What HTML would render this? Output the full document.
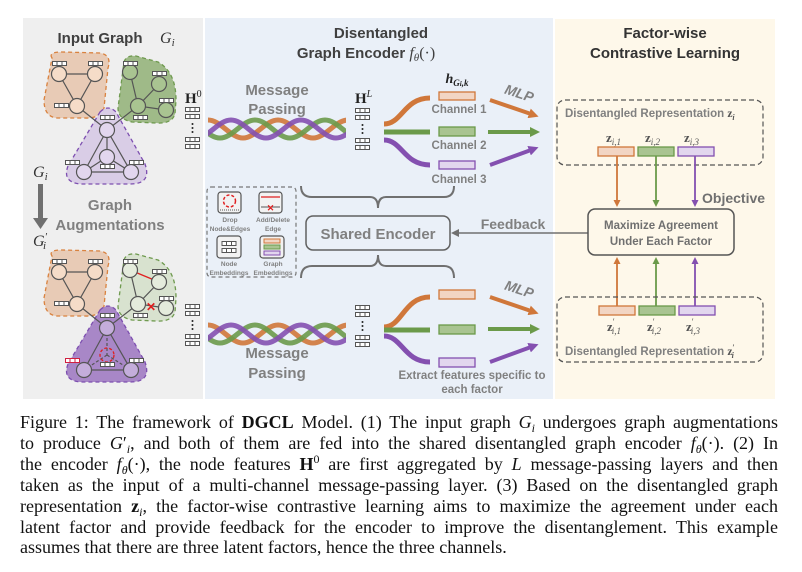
<!DOCTYPE html>
<html><head><meta charset="utf-8"><style>
body{margin:0;width:802px;height:572px;background:#fff;overflow:hidden;position:relative}
svg{position:absolute;left:0;top:0}
.cap{position:absolute;left:20px;width:758px;height:21px;font-family:"Liberation Serif",serif;font-size:18px;color:#111;text-align:justify;text-align-last:justify;white-space:nowrap;line-height:21px}
.cap i{font-style:italic}
.cap sub,.cap sup{font-size:12px;line-height:0;vertical-align:baseline;position:relative}
.cap sub{top:4px}.cap sup{top:-7px}
</style></head><body>
<svg width="802" height="400" viewBox="0 0 802 400" font-family="Liberation Sans, sans-serif">
<defs>
<symbol id="e" viewBox="0 0 15 5" width="15" height="5"><rect x="0.5" y="0.5" width="14" height="4" fill="#fff" stroke="#555" stroke-width="1"/><line x1="5" y1="0" x2="5" y2="5" stroke="#555"/><line x1="10" y1="0" x2="10" y2="5" stroke="#555"/></symbol>
<g id="stack"><use href="#e" x="0" y="0"/><use href="#e" x="0" y="7"/><circle cx="7.5" cy="17" r="1" fill="#222"/><circle cx="7.5" cy="21" r="1" fill="#222"/><circle cx="7.5" cy="25" r="1" fill="#222"/><use href="#e" x="0" y="30"/><use href="#e" x="0" y="37"/></g>
<clipPath id="bc"><rect x="208" y="0" width="138" height="400"/></clipPath>
<marker id="ao" markerWidth="10" markerHeight="10" refX="2" refY="5" orient="auto" markerUnits="userSpaceOnUse"><path d="M0,0 L10,5 L0,10Z" fill="#d0773a"/></marker>
<marker id="ag" markerWidth="10" markerHeight="10" refX="2" refY="5" orient="auto" markerUnits="userSpaceOnUse"><path d="M0,0 L10,5 L0,10Z" fill="#6b9a4a"/></marker>
<marker id="ap" markerWidth="10" markerHeight="10" refX="2" refY="5" orient="auto" markerUnits="userSpaceOnUse"><path d="M0,0 L10,5 L0,10Z" fill="#8450b0"/></marker>
<marker id="so" markerWidth="7" markerHeight="7" refX="1" refY="3.5" orient="auto" markerUnits="userSpaceOnUse"><path d="M0,0 L7,3.5 L0,7Z" fill="#d0773a"/></marker>
<marker id="sg" markerWidth="7" markerHeight="7" refX="1" refY="3.5" orient="auto" markerUnits="userSpaceOnUse"><path d="M0,0 L7,3.5 L0,7Z" fill="#6b9a4a"/></marker>
<marker id="sp" markerWidth="7" markerHeight="7" refX="1" refY="3.5" orient="auto" markerUnits="userSpaceOnUse"><path d="M0,0 L7,3.5 L0,7Z" fill="#8450b0"/></marker>
<g id="braid" clip-path="url(#bc)" fill="none" stroke-width="5">
<path d="M138,120 C150.6,120 160.4,138 173,138 S195.4,120 208,120 S230.4,138 243,138 S265.4,120 278,120 S300.4,138 313,138 S335.4,120 348,120 S370.4,138 383,138" stroke="#d0773a" opacity=".9"/>
<path d="M185,120 C197.6,120 207.4,138 220,138 S242.4,120 255,120 S277.4,138 290,138 S312.4,120 325,120 S347.4,138 360,138" stroke="#6b9a4a" opacity=".9"/>
<path d="M161,120 C173.6,120 183.4,138 196,138 S218.4,120 231,120 S253.4,138 266,138 S288.4,120 301,120 S323.4,138 336,138 S358.4,120 371,120" stroke="#8450b0" opacity=".9"/>
</g>
</defs>
<rect x="23" y="18" width="180" height="381" fill="#efefef"/>
<rect x="205" y="18" width="348" height="381" fill="#eaf0f8"/>
<rect x="555" y="19" width="220" height="380" fill="#fef8ea"/>
<text x="100" y="43" font-size="15" font-weight="bold" fill="#404040" text-anchor="middle">Input Graph</text>
<text x="160" y="43" font-size="16" font-style="italic" font-family="Liberation Serif,serif" fill="#333">G<tspan font-size="11" dy="3">i</tspan></text>
<text x="381" y="38" font-size="15" font-weight="bold" fill="#404040" text-anchor="middle">Disentangled</text>
<text x="366" y="58" font-size="15" font-weight="bold" fill="#404040" text-anchor="middle">Graph Encoder <tspan font-family="Liberation Serif,serif" font-style="italic" font-weight="normal" font-size="16">f<tspan font-size="11" dy="3">θ</tspan><tspan dy="-3" font-style="normal">(·)</tspan></tspan></text>
<text x="665" y="38" font-size="15" font-weight="bold" fill="#333" text-anchor="middle">Factor-wise</text>
<text x="665" y="58" font-size="15" font-weight="bold" fill="#333" text-anchor="middle">Contrastive Learning</text>

<g>
<path d="M52,58 Q48,52 62,52 L100,53 Q112,55 108,68 L104,108 Q100,119 84,118 L56,118 Q44,116 44,100 Z" fill="#e8cbb6" stroke="#d9823f" stroke-dasharray="4 3" stroke-width="1.3"/>
<path d="M124,62 Q126,55 136,56 L158,62 Q176,72 176,100 L175,114 Q172,124 156,123 L132,122 Q118,119 118,108 Z" fill="#9fba88" stroke="#6f9a4f" stroke-dasharray="4 3" stroke-width="1.3"/>
<path d="M100,112 Q108,104 116,112 L145,164 Q152,184 130,184 L80,184 Q62,182 68,166 Z" fill="#d9cde6" stroke="#7d4fb0" stroke-dasharray="4 3" stroke-width="1.3"/>
<g stroke="#555" stroke-width="1.2">
<path d="M59,74 L95,74 L77,106 Z M77,106 L107,130 M130,72 L138,106 M159,84 L138,106 L166,110 M138,106 L107,130 M107,130 L107,157 M107,130 L84,172 M107,130 L131,172 M84,172 L131,172 M107,157 L84,172 M107,157 L131,172" fill="none"/>
<g fill="#f5dcc8"><circle cx="59" cy="74" r="7.5"/><circle cx="95" cy="74" r="7.5"/><circle cx="77" cy="106" r="7.5"/></g>
<g fill="#a9c491"><circle cx="130" cy="72" r="7.5"/><circle cx="159" cy="84" r="7.5"/><circle cx="138" cy="106" r="7.5"/><circle cx="166" cy="110" r="7.5"/></g>
<g fill="#e2d6ee"><circle cx="107" cy="130" r="7.5"/><circle cx="107" cy="157" r="7.5"/><circle cx="84" cy="172" r="7.5"/><circle cx="131" cy="172" r="7.5"/></g>
</g>
<use href="#e" x="52" y="61"/><use href="#e" x="88" y="61"/><use href="#e" x="54" y="103"/><use href="#e" x="100" y="115"/><use href="#e" x="123" y="61"/><use href="#e" x="152" y="71"/><use href="#e" x="159" y="98"/><use href="#e" x="133" y="115"/><use href="#e" x="65" y="160"/><use href="#e" x="100" y="164"/><use href="#e" x="129" y="160"/>
</g>

<text x="33" y="177" font-size="16" font-style="italic" font-family="Liberation Serif,serif" fill="#333">G<tspan font-size="11" dy="3">i</tspan></text>
<rect x="38" y="184" width="5" height="35" fill="#707070"/>
<path d="M33,218 L48,218 L40.5,229 Z" fill="#707070"/>
<text x="110" y="210" font-size="15" font-weight="bold" fill="#808080" text-anchor="middle">Graph</text>
<text x="110" y="230" font-size="15" font-weight="bold" fill="#808080" text-anchor="middle">Augmentations</text>
<text x="33" y="246" font-size="16" font-style="italic" font-family="Liberation Serif,serif" fill="#333">G<tspan font-size="11" dy="-6">′</tspan><tspan font-size="11" dy="9" dx="-4">i</tspan></text>

<g transform="translate(0,198)">
<path d="M52,58 Q48,52 62,52 L100,53 Q112,55 108,68 L104,108 Q100,119 84,118 L56,118 Q44,116 44,100 Z" fill="#e8cbb6" stroke="#d9823f" stroke-dasharray="4 3" stroke-width="1.3"/>
<path d="M124,62 Q126,55 136,56 L158,62 Q176,72 176,100 L175,114 Q172,124 156,123 L132,122 Q118,119 118,108 Z" fill="#d8e2cf" stroke="#6f9a4f" stroke-dasharray="4 3" stroke-width="1.3"/>
<path d="M100,112 Q108,104 116,112 L145,164 Q152,184 130,184 L80,184 Q62,182 68,166 Z" fill="#a887c7" stroke="#7d4fb0" stroke-dasharray="4 3" stroke-width="1.3"/>
<g stroke="#555" stroke-width="1.2" fill="none">
<path d="M59,74 L95,74 L77,106 Z M77,106 L107,130 M130,72 L138,106 M159,84 L138,106 L166,110 M138,106 L107,130 M107,130 L84,172 M107,130 L131,172 M84,172 L131,172"/>
<path d="M107,130 L107,157 M107,157 L84,172 M107,157 L131,172" stroke-dasharray="3 2"/>
</g>
<line x1="130" y1="72" x2="159" y2="84" stroke="#e02020" stroke-width="1.3"/>
<text x="151" y="113" font-size="12" font-weight="bold" fill="#e02020" text-anchor="middle">✕</text>
<g stroke="#555" stroke-width="1.2">
<g fill="#f5dcc8"><circle cx="59" cy="74" r="7.5"/><circle cx="95" cy="74" r="7.5"/><circle cx="77" cy="106" r="7.5"/></g>
<g fill="#e4ebdc"><circle cx="130" cy="72" r="7.5"/><circle cx="159" cy="84" r="7.5"/><circle cx="138" cy="106" r="7.5"/><circle cx="166" cy="110" r="7.5"/></g>
<g fill="#c4addb"><circle cx="107" cy="130" r="7.5"/><circle cx="84" cy="172" r="7.5"/><circle cx="131" cy="172" r="7.5"/></g>
</g>
<circle cx="107" cy="157" r="7" fill="none" stroke="#e02020" stroke-width="1.3" stroke-dasharray="3 2"/>
<use href="#e" x="52" y="61"/><use href="#e" x="88" y="61"/><use href="#e" x="54" y="103"/><use href="#e" x="100" y="115"/><use href="#e" x="123" y="61"/><use href="#e" x="152" y="71"/><use href="#e" x="159" y="98"/><use href="#e" x="133" y="115"/><use href="#e" x="129" y="160"/><use href="#e" x="100" y="164"/>
<g transform="translate(65,160)"><rect x="0.5" y="0.5" width="14" height="4" fill="#fff" stroke="#d02040"/><line x1="5" y1="0" x2="5" y2="5" stroke="#d02040"/><line x1="10" y1="0" x2="10" y2="5" stroke="#d02040"/></g>
</g>

<text x="185" y="103" font-size="15" font-weight="bold" font-family="Liberation Serif,serif" fill="#222">H<tspan font-size="10" dy="-6" font-weight="normal">0</tspan></text>
<g transform="translate(185,107)"><use href="#stack"/></g>
<text x="355" y="103" font-size="15" font-weight="bold" font-family="Liberation Serif,serif" fill="#222">H<tspan font-size="10" dy="-6" font-weight="normal" font-style="italic">L</tspan></text>
<g transform="translate(355,108)"><use href="#stack"/></g>
<g transform="translate(185,304)"><use href="#stack"/></g>
<g transform="translate(355,305)"><use href="#stack"/></g>

<text x="277" y="95" font-size="15" font-weight="bold" fill="#808080" text-anchor="middle">Message</text>
<text x="277" y="114" font-size="15" font-weight="bold" fill="#808080" text-anchor="middle">Passing</text>
<use href="#braid"/>
<use href="#braid" y="205"/>
<text x="277" y="358" font-size="15" font-weight="bold" fill="#808080" text-anchor="middle">Message</text>
<text x="277" y="378" font-size="15" font-weight="bold" fill="#808080" text-anchor="middle">Passing</text>

<g fill="none" stroke-width="5">
<path d="M384,124 C402,124 404,98 430,98" stroke="#d0773a"/>
<path d="M384,132 L430,132" stroke="#6b9a4a"/>
<path d="M384,140 C402,140 404,165 430,165" stroke="#8450b0"/>
<path d="M384,327 C402,327 404,297 430,297" stroke="#d0773a"/>
<path d="M384,330 L430,330" stroke="#6b9a4a"/>
<path d="M384,336 C402,336 404,362 430,362" stroke="#8450b0"/>
</g>
<text x="457" y="83" font-size="14" font-weight="bold" font-style="italic" font-family="Liberation Serif,serif" fill="#222" text-anchor="middle">h<tspan font-size="9" dy="3">G<tspan font-size="7">i</tspan>,k</tspan></text>
<rect x="439" y="92" width="36" height="8" fill="#f2d5c3" stroke="#d0773a" stroke-width="1.3"/>
<rect x="439" y="127" width="36" height="9" fill="#a9c491" stroke="#6b9a4a" stroke-width="1.3"/>
<rect x="439" y="161" width="36" height="8" fill="#e2d6ee" stroke="#8450b0" stroke-width="1.3"/>
<text x="459" y="113" font-size="11.5" font-weight="bold" fill="#808080" text-anchor="middle">Channel 1</text>
<text x="459" y="149" font-size="11.5" font-weight="bold" fill="#808080" text-anchor="middle">Channel 2</text>
<text x="459" y="183" font-size="11.5" font-weight="bold" fill="#808080" text-anchor="middle">Channel 3</text>
<rect x="439" y="290" width="36" height="9" fill="#f2d5c3" stroke="#d0773a" stroke-width="1.3"/>
<rect x="439" y="325" width="36" height="9" fill="#a9c491" stroke="#6b9a4a" stroke-width="1.3"/>
<rect x="439" y="358" width="36" height="9" fill="#e2d6ee" stroke="#8450b0" stroke-width="1.3"/>
<text x="472" y="379" font-size="11.5" font-weight="bold" fill="#808080" text-anchor="middle">Extract features specific to</text>
<text x="472" y="393" font-size="11.5" font-weight="bold" fill="#808080" text-anchor="middle">each factor</text>

<g stroke-width="4">
<line x1="490" y1="100" x2="531" y2="114" stroke="#d0773a" marker-end="url(#ao)"/>
<line x1="488" y1="132" x2="532" y2="132" stroke="#6b9a4a" marker-end="url(#ag)"/>
<line x1="490" y1="165" x2="531" y2="150" stroke="#8450b0" marker-end="url(#ap)"/>
<line x1="490" y1="297" x2="531" y2="311" stroke="#d0773a" marker-end="url(#ao)"/>
<line x1="488" y1="329" x2="532" y2="329" stroke="#6b9a4a" marker-end="url(#ag)"/>
<line x1="490" y1="362" x2="531" y2="347" stroke="#8450b0" marker-end="url(#ap)"/>
</g>
<text x="519" y="98" font-size="14" font-weight="bold" font-style="italic" fill="#808080" text-anchor="middle" transform="rotate(18 519 94)">MLP</text>
<text x="519" y="294" font-size="14" font-weight="bold" font-style="italic" fill="#808080" text-anchor="middle" transform="rotate(18 519 290)">MLP</text>

<g fill="none" stroke="#707070" stroke-width="2">
<path d="M301,186 Q301,197 312,197 L370,197 Q378,197 378,208 Q378,197 386,197 L444,197 Q454,197 454,186"/>
<path d="M301,278 Q301,266 312,266 L370,266 Q378,266 378,255 Q378,266 386,266 L444,266 Q454,266 454,278"/>
</g>
<rect x="306" y="216" width="144" height="34" rx="7" fill="none" stroke="#606060" stroke-width="1.5"/>
<text x="378" y="239" font-size="15" font-weight="bold" fill="#808080" text-anchor="middle">Shared Encoder</text>

<rect x="207" y="187" width="89" height="90" rx="4" fill="none" stroke="#777" stroke-dasharray="4 3" stroke-width="1.2"/>
<rect x="218" y="192" width="23" height="21" rx="3" fill="#f2f2f2" stroke="#555" stroke-width="1.2"/>
<circle cx="229.5" cy="201" r="6" fill="none" stroke="#e02020" stroke-width="1.5" stroke-dasharray="3 2"/>
<line x1="220" y1="210" x2="239" y2="210" stroke="#555" stroke-dasharray="1 1"/>
<rect x="259" y="192" width="23" height="21" rx="3" fill="#f2f2f2" stroke="#555" stroke-width="1.2"/>
<line x1="261" y1="197" x2="280" y2="197" stroke="#e02020" stroke-width="1.2"/>
<line x1="261" y1="207" x2="280" y2="207" stroke="#555"/>
<text x="270.5" y="211" font-size="9" font-weight="bold" fill="#e02020" text-anchor="middle">✕</text>
<text x="230" y="222" font-size="6.5" font-weight="bold" fill="#808080" text-anchor="middle">Drop</text>
<text x="230" y="231" font-size="6.5" font-weight="bold" fill="#808080" text-anchor="middle">Node&amp;Edges</text>
<text x="273" y="222" font-size="6.5" font-weight="bold" fill="#808080" text-anchor="middle">Add/Delete</text>
<text x="273" y="231" font-size="6.5" font-weight="bold" fill="#808080" text-anchor="middle">Edge</text>
<rect x="217" y="236" width="24" height="22" rx="3" fill="#f2f2f2" stroke="#555" stroke-width="1.2"/>
<use href="#e" x="221.5" y="241"/><use href="#e" x="221.5" y="248"/>
<rect x="260" y="236" width="24" height="22" rx="3" fill="#f2f2f2" stroke="#555" stroke-width="1.2"/>
<rect x="264" y="239" width="16" height="4" fill="#f2d5c3" stroke="#d0773a"/>
<rect x="264" y="245" width="16" height="4" fill="#a9c491" stroke="#6b9a4a"/>
<rect x="264" y="251" width="16" height="4" fill="#e2d6ee" stroke="#8450b0"/>
<text x="229" y="266" font-size="6.5" font-weight="bold" fill="#808080" text-anchor="middle">Node</text>
<text x="229" y="275" font-size="6.5" font-weight="bold" fill="#808080" text-anchor="middle">Embeddings</text>
<text x="273" y="266" font-size="6.5" font-weight="bold" fill="#808080" text-anchor="middle">Graph</text>
<text x="273" y="275" font-size="6.5" font-weight="bold" fill="#808080" text-anchor="middle">Embeddings</text>

<line x1="588" y1="233" x2="456" y2="233" stroke="#707070" stroke-width="1.5"/>
<path d="M451,233 L459,229 L459,237 Z" fill="#707070"/>
<text x="513" y="229" font-size="14" font-weight="bold" fill="#808080" text-anchor="middle">Feedback</text>

<rect x="557" y="100" width="206" height="65" rx="8" fill="none" stroke="#555" stroke-dasharray="5 3" stroke-width="1.2"/>
<text x="565" y="117" font-size="11.5" font-weight="bold" fill="#808080">Disentangled Representation <tspan font-family="Liberation Serif,serif" fill="#555">z<tspan font-size="8" dy="3" font-style="italic">i</tspan></tspan></text>
<g font-family="Liberation Serif,serif" font-size="13" font-weight="bold" fill="#555">
<text x="606" y="142">z<tspan font-size="9" font-weight="normal" font-style="italic" dy="3">i,1</tspan></text>
<text x="645" y="142">z<tspan font-size="9" font-weight="normal" font-style="italic" dy="3">i,2</tspan></text>
<text x="684" y="142">z<tspan font-size="9" font-weight="normal" font-style="italic" dy="3">i,3</tspan></text>
<text x="607" y="331">z<tspan font-size="9" font-weight="normal" dy="-6">′</tspan><tspan font-size="9" font-weight="normal" font-style="italic" dy="9" dx="-3">i,1</tspan></text>
<text x="647" y="331">z<tspan font-size="9" font-weight="normal" dy="-6">′</tspan><tspan font-size="9" font-weight="normal" font-style="italic" dy="9" dx="-3">i,2</tspan></text>
<text x="686" y="331">z<tspan font-size="9" font-weight="normal" dy="-6">′</tspan><tspan font-size="9" font-weight="normal" font-style="italic" dy="9" dx="-3">i,3</tspan></text>
</g>
<rect x="598" y="147" width="36" height="9" fill="#f2d5c3" stroke="#d0773a" stroke-width="1.3"/>
<rect x="638" y="147" width="36" height="9" fill="#a9c491" stroke="#6b9a4a" stroke-width="1.3"/>
<rect x="678" y="147" width="36" height="9" fill="#e2d6ee" stroke="#8450b0" stroke-width="1.3"/>
<g stroke-width="1.8">
<line x1="617" y1="156" x2="617" y2="201" stroke="#d0773a" marker-end="url(#so)"/>
<line x1="656" y1="156" x2="656" y2="201" stroke="#6b9a4a" marker-end="url(#sg)"/>
<line x1="695" y1="156" x2="695" y2="201" stroke="#8450b0" marker-end="url(#sp)"/>
<line x1="617" y1="306" x2="617" y2="263" stroke="#d0773a" marker-end="url(#so)"/>
<line x1="656" y1="306" x2="656" y2="263" stroke="#6b9a4a" marker-end="url(#sg)"/>
<line x1="695" y1="306" x2="695" y2="263" stroke="#8450b0" marker-end="url(#sp)"/>
</g>
<text x="702" y="203" font-size="14" font-weight="bold" fill="#707070">Objective</text>
<rect x="588" y="209" width="146" height="46" rx="7" fill="#fef8ea" stroke="#555" stroke-width="1.5"/>
<text x="661" y="229" font-size="11.5" font-weight="bold" fill="#707070" text-anchor="middle">Maximize Agreement</text>
<text x="661" y="245" font-size="11.5" font-weight="bold" fill="#707070" text-anchor="middle">Under Each Factor</text>
<rect x="557" y="297" width="206" height="65" rx="8" fill="none" stroke="#555" stroke-dasharray="5 3" stroke-width="1.2"/>
<rect x="599" y="306" width="36" height="9" fill="#f2d5c3" stroke="#d0773a" stroke-width="1.3"/>
<rect x="639" y="306" width="36" height="9" fill="#a9c491" stroke="#6b9a4a" stroke-width="1.3"/>
<rect x="679" y="306" width="36" height="9" fill="#e2d6ee" stroke="#8450b0" stroke-width="1.3"/>
<text x="565" y="355" font-size="11.5" font-weight="bold" fill="#808080">Disentangled Representation <tspan font-family="Liberation Serif,serif" fill="#555">z<tspan font-size="8" dy="-5">′</tspan><tspan font-size="8" dy="8" dx="-3" font-style="italic">i</tspan></tspan></text>
</svg>

<div class="cap" style="top:412px">Figure 1: The framework of <b>DGCL</b> Model. (1) The input graph <i>G<sub>i</sub></i> undergoes graph augmentations</div>
<div class="cap" style="top:433px">to produce <i>G</i>′<sub><i>i</i></sub>, and both of them are fed into the shared disentangled graph encoder <i>f<sub>θ</sub></i>(·). (2) In</div>
<div class="cap" style="top:454px">the encoder <i>f<sub>θ</sub></i>(·), the node features <b>H</b><sup>0</sup> are first aggregated by <i>L</i> message-passing layers and then</div>
<div class="cap" style="top:475px">taken as the input of a multi-channel message-passing layer. (3) Based on the disentangled graph</div>
<div class="cap" style="top:496px">representation <b>z</b><sub><i>i</i></sub>, the factor-wise contrastive learning aims to maximize the agreement under each</div>
<div class="cap" style="top:517px">latent factor and provide feedback for the encoder to improve the disentanglement. This example</div>
<div class="cap" style="top:537px;text-align-last:left">assumes that there are three latent factors, hence the three channels.</div>
</body></html>
